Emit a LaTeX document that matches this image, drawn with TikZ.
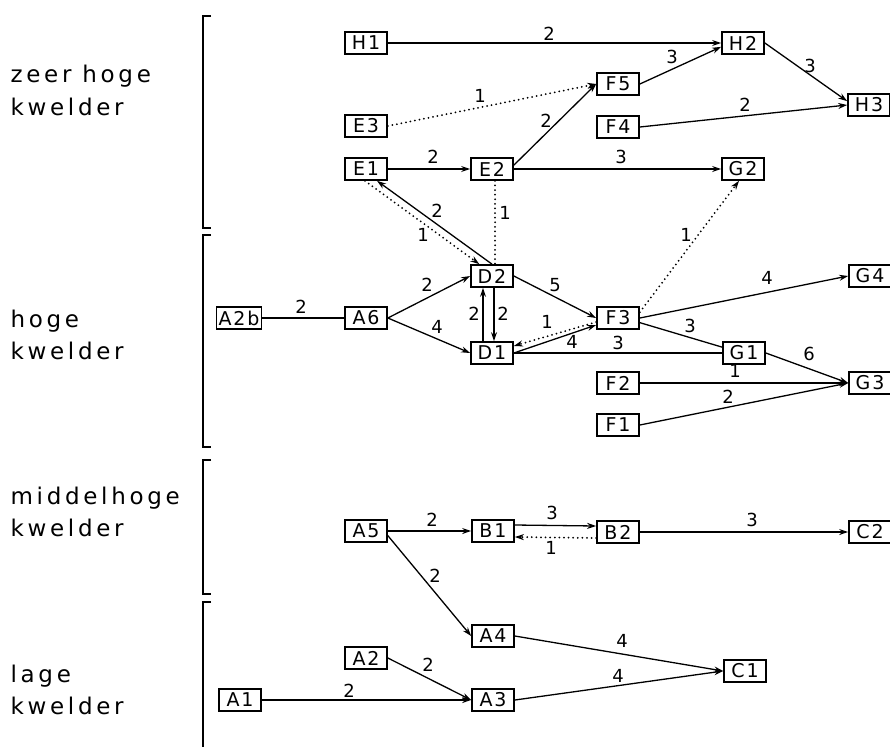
\documentclass[tikz,border=0pt]{standalone}
\usepackage{fontspec}
\setmainfont{DejaVu Sans}
\newfontfamily\lblfont[LetterSpace=16]{DejaVu Sans}
\newfontfamily\boxfont[LetterSpace=10]{DejaVu Sans}
\usetikzlibrary{arrows.meta}
\begin{document}
\begin{tikzpicture}[x=1pt,y=-1pt,line width=1.3pt,
  box/.style={draw,line width=1.7pt,minimum width=42pt,minimum height=22pt,inner sep=0pt,font=\boxfont\fontsize{19}{19}\selectfont},
  lab/.style={font=\fontsize{18}{18}\selectfont,inner sep=0pt},
  zone/.style={font=\lblfont\fontsize{23}{23}\selectfont,anchor=base west,inner sep=0pt},
  arr/.style={-{Stealth[length=9pt,width=6pt]},line width=1.3pt},
  dotl/.style={line width=2pt,dash pattern=on 0pt off 4.6pt,line cap=round},
  br/.style={line width=1.6pt}]
\useasboundingbox (0,0) rectangle (890,747);
\fill[white] (0,0) rectangle (890,747);

% zone labels
\node[zone] (z1a) at (10,82) {zeer hoge};
\node[zone] (z1b) at (10,115) {kwelder};
\node[zone] (z2a) at (10,327) {hoge};
\node[zone] (z2b) at (10,359) {kwelder};
\node[zone] (z3a) at (10,504) {middelhoge};
\node[zone] (z3b) at (10,536) {kwelder};
\node[zone] (z4a) at (10,682) {lage};
\node[zone] (z4b) at (10,714) {kwelder};

% brackets
\draw[br] (211,16) -- (203,16) -- (203,228) -- (211,228);
\draw[br] (211,235) -- (203,235) -- (203,447) -- (211,447);
\draw[br] (211,460) -- (203,460) -- (203,594) -- (211,594);
\draw[br] (211,602) -- (203,602) -- (203,747);

% nodes
\node[box] (H1) at (366,43) {H1};
\node[box] (H2) at (743,43) {H2};
\node[box] (F5) at (618,84) {F5};
\node[box] (H3) at (869,105) {H3};
\node[box] (E3) at (366,126) {E3};
\node[box] (F4) at (618,127) {F4};
\node[box] (E1) at (366,169) {E1};
\node[box] (E2) at (492,169) {E2};
\node[box] (G2) at (743,169) {G2};
\node[box] (D2) at (492,276) {D2};
\node[box] (G4) at (870,276) {G4};
\node[box,minimum width=45pt] (A2b) at (239,318) {A2b};
\node[box] (A6) at (366,318) {A6};
\node[box] (F3) at (618,318) {F3};
\node[box] (D1) at (492,353) {D1};
\node[box] (G1) at (744,353) {G1};
\node[box] (F2) at (618,383) {F2};
\node[box] (G3) at (870,383) {G3};
\node[box] (F1) at (618,425) {F1};
\node[box] (A5) at (366,531) {A5};
\node[box] (B1) at (493,531) {B1};
\node[box] (B2) at (618,532) {B2};
\node[box] (C2) at (870,532) {C2};
\node[box] (A4) at (493,636) {A4};
\node[box] (A2) at (366,658) {A2};
\node[box] (C1) at (745,671) {C1};
\node[box] (A1) at (240,700) {A1};
\node[box] (A3) at (493,700) {A3};

% connectors
\draw[arr] (H1.east) -- (H2.west);
\draw[arr] (F5.east) -- (H2.-170);
\draw[arr] (H2.east) -- (H3.170);
\draw[arr] (F4.east) -- (H3.west);
\draw[arr,dotl] (E3.east) -- (F5.west);
\draw[arr] (E2.10) -- (F5.west);
\draw[arr] (E1.east) -- (E2.west);
\draw[arr] (E2.east) -- (G2.west);
\draw[dotl] ([xshift=3pt]E2.south) -- ([xshift=3pt]D2.north);
\draw[arr] (D2.north) -- (E1.-47);
\draw[arr,dotl] (E1.-95) -- (D2.137);
\draw (A2b.east) -- (A6.west);
\draw[arr] (A6.east) -- (D2.west);
\draw[arr] (A6.east) -- (D1.west);
\draw[arr] ([xshift=-9pt]D1.north) -- ([xshift=-9pt]D2.south);
\draw[arr] ([xshift=2pt]D2.south) -- ([xshift=2pt]D1.north);
\draw[arr] (D2.east) -- (F3.west);
\draw[arr] (D1.east) -- ([yshift=-7pt]F3.west);
\draw[arr,dotl] ([yshift=-4pt]F3.west) -- ([yshift=7pt]D1.east);
\draw (D1.east) -- (G1.west);
\draw[arr,dotl] (F3.15) -- ([xshift=-4pt]G2.south);
\draw[arr] (F3.east) -- (G4.west);
\draw (F3.-12) -- (G1.165);
\draw[arr] (G1.east) -- (G3.west);
\draw[arr] (F2.east) -- (G3.west);
\draw[arr] (F1.east) -- (G3.west);
\draw[arr] (A5.east) -- (B1.west);
\draw[arr] ([yshift=6pt]B1.east) -- ([yshift=6pt]B2.west);
\draw[arr,dotl] ([yshift=-6pt]B2.west) -- ([yshift=-6pt]B1.east);
\draw[arr] (B2.east) -- (C2.west);
\draw[arr] (A5.-12) -- (A4.west);
\draw[arr] (A4.east) -- (C1.west);
\draw[arr] (A3.east) -- (C1.west);
\draw[arr] (A2.east) -- (A3.west);
\draw[arr] (A1.east) -- (A3.west);

% connector labels
\node[lab] (l1) at (549,34) {2};
\node[lab] (l2) at (672,57) {3};
\node[lab] (l3) at (810,66) {3};
\node[lab] (l4) at (745,105) {2};
\node[lab] (l5) at (480,96) {1};
\node[lab] (l6) at (546,121) {2};
\node[lab] (l7) at (433,157) {2};
\node[lab] (l8) at (621,157) {3};
\node[lab] (l9) at (505,213) {1};
\node[lab] (l10) at (437,211) {2};
\node[lab] (l11) at (423,235) {1};
\node[lab] (l12) at (301,307) {2};
\node[lab] (l13) at (427,285) {2};
\node[lab] (l14) at (437,327) {4};
\node[lab] (l15) at (474,314) {2};
\node[lab] (l16) at (503,314) {2};
\node[lab] (l17) at (555,285) {5};
\node[lab] (l18) at (547,322) {1};
\node[lab] (l19) at (572,342) {4};
\node[lab] (l20) at (618,343) {3};
\node[lab] (l21) at (686,235) {1};
\node[lab] (l22) at (767,278) {4};
\node[lab] (l23) at (690,326) {3};
\node[lab] (l24) at (809,354) {6};
\node[lab] (l25) at (735,371) {1};
\node[lab] (l26) at (728,397) {2};
\node[lab] (l27) at (432,520) {2};
\node[lab] (l28) at (552,513) {3};
\node[lab] (l29) at (551,548) {1};
\node[lab] (l30) at (752,520) {3};
\node[lab] (l31) at (435,576) {2};
\node[lab] (l32) at (622,641) {4};
\node[lab] (l33) at (618,676) {4};
\node[lab] (l34) at (428,665) {2};
\node[lab] (l35) at (349,691) {2};
\end{tikzpicture}
\end{document}
